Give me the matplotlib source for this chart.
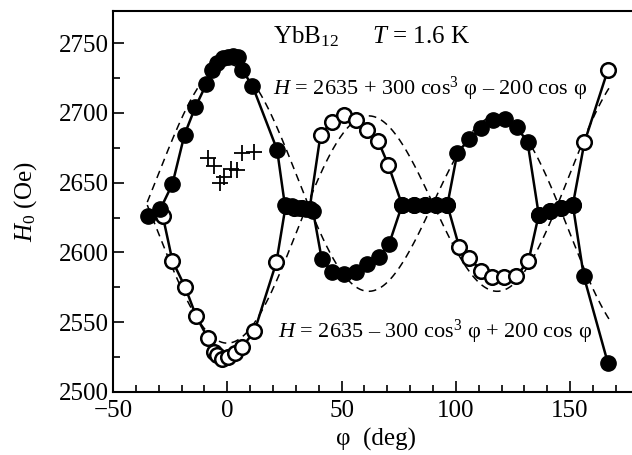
import matplotlib
matplotlib.use("Agg")
import matplotlib.pyplot as plt
import numpy as np
from matplotlib.ticker import MultipleLocator

plt.rcParams['font.family'] = ['Liberation Serif', 'DejaVu Serif']
plt.rcParams['mathtext.fontset'] = 'custom'
plt.rcParams['mathtext.rm'] = 'Liberation Serif'
plt.rcParams['mathtext.it'] = 'Liberation Serif:italic'

# filled circles
phi_filled = [-34.5, -29.3, -24, -18.7, -14, -9.2, -6.7, -4.3, -2, 0.3, 2.5, 4.5, 6.4, 11,
              21.8, 25.2, 28.5, 31.5, 34.5, 37.5, 41.3, 45.9, 51, 56.2, 61.3, 66.4, 70.8,
              76.5, 81.5, 86.5, 91.5, 96.3, 100.7, 105.9, 111, 116.1, 121.7, 126.6, 131.4,
              136.3, 141, 146, 151.2, 156, 166.5]
H_filled = [2626, 2631, 2649, 2684.5, 2704, 2720.5, 2731, 2736, 2739, 2740, 2741, 2740, 2731, 2719.5,
            2673.6, 2634, 2633, 2632, 2631, 2630, 2595.5, 2586, 2584.3, 2586, 2591.4, 2597, 2606,
            2634, 2634, 2634, 2634, 2634, 2671.6, 2681, 2689.5, 2694.8, 2695.5, 2690, 2679,
            2627, 2630, 2632, 2634, 2583, 2521]

# open circles
phi_open = [-28.2, -24, -18.4, -13.6, -8.6, -6, -4.5, -2.3, 0.3, 3.2, 6.4, 11.9,
            21.5, 25.5, 29, 32.5, 36, 40.8, 45.9, 51, 56.4, 61, 66, 70.5,
            76.5, 81.5, 86.5, 91.5, 96.3, 101.5, 105.9, 111, 115.8, 121.2, 126.4, 131.8,
            136.3, 141, 146, 151.2, 156.3, 166.5]
H_open = [2626, 2594, 2575, 2554.3, 2539, 2529, 2526.4, 2523.3, 2525.2, 2528, 2532, 2543.6,
          2593, 2633, 2632, 2632, 2631, 2684.3, 2693.6, 2698.4, 2695, 2688, 2680, 2662.6,
          2634, 2634, 2634, 2634, 2634, 2603.8, 2596, 2587, 2582.4, 2582.4, 2583, 2593.8,
          2627, 2630, 2632, 2634, 2679, 2730.5]

# crosses
phi_cross = [-8.5, -6, -3.3, -1.3, 1.6, 4.3, 6.5, 11.9]
H_cross = [2667.5, 2662, 2649.5, 2654, 2660, 2659, 2671, 2672]

# fit curves from the formulas written on the chart
H_mid = 2635
A = 300
B = 200
phi_fit = np.linspace(-35, 168, 400)
c = np.cos(np.radians(phi_fit))
fit_up = H_mid + A * c**3 - B * c
fit_dn = H_mid - A * c**3 + B * c

PHI = '\u03c6'
DASH = '\u2013'

fig = plt.figure(figsize=(6.32, 4.55), dpi=100)
ax = fig.add_axes([113/632, 63/455, 527/632, 381/455])

ax.plot(phi_fit, fit_up, 'k--', lw=1.1, dashes=(5, 3.5))
ax.plot(phi_fit, fit_dn, 'k--', lw=1.1, dashes=(5, 3.5))
ax.plot(phi_open, H_open, '-o', color='k', lw=1.8, ms=10.5, mfc='white', mec='k', mew=1.8)
ax.plot(phi_filled, H_filled, '-o', color='k', lw=1.8, ms=11, mfc='k', mec='k')
ax.plot(phi_cross, H_cross, '+', color='k', ms=11, mew=1.3)

ax.set_xlim(-50, 180.6)
ax.set_ylim(2500, 2773)
ax.xaxis.set_major_locator(MultipleLocator(50))
ax.xaxis.set_minor_locator(MultipleLocator(10))
ax.yaxis.set_major_locator(MultipleLocator(50))
ax.yaxis.set_minor_locator(MultipleLocator(25))
ax.tick_params(which='both', direction='in', top=False, right=False, labelsize=18, width=1.2)
ax.tick_params(axis='x', which='major', length=8, pad=6)
ax.tick_params(axis='y', which='major', length=8, pad=3)
ax.tick_params(which='minor', length=5)
for s in ax.spines.values():
    s.set_linewidth(1.5)

ax.set_xlabel(PHI + '  (deg)', fontsize=18, labelpad=4)
ax.set_ylabel(r'$\mathit{H}_0$ (Oe)', fontsize=18, labelpad=14)

fig.text(273/632, 1 - 43/455, 'YbB$_{12}$', fontsize=18, va='baseline')
fig.text(372/632, 1 - 43/455, r'$\mathit{T}$ = 1.6 K', fontsize=18, va='baseline')
fig.text(273/632, 1 - 95/455,
         r'$\mathit{H}$ = 2635 + 300 cos$^{3}$ ' + PHI + ' ' + DASH + ' 200 cos ' + PHI,
         fontsize=16, va='baseline')
fig.text(278/632, 1 - 338/455,
         r'$\mathit{H}$ = 2635 ' + DASH + ' 300 cos$^{3}$ ' + PHI + ' + 200 cos ' + PHI,
         fontsize=16, va='baseline')

fig.savefig('out.png', dpi=100)
